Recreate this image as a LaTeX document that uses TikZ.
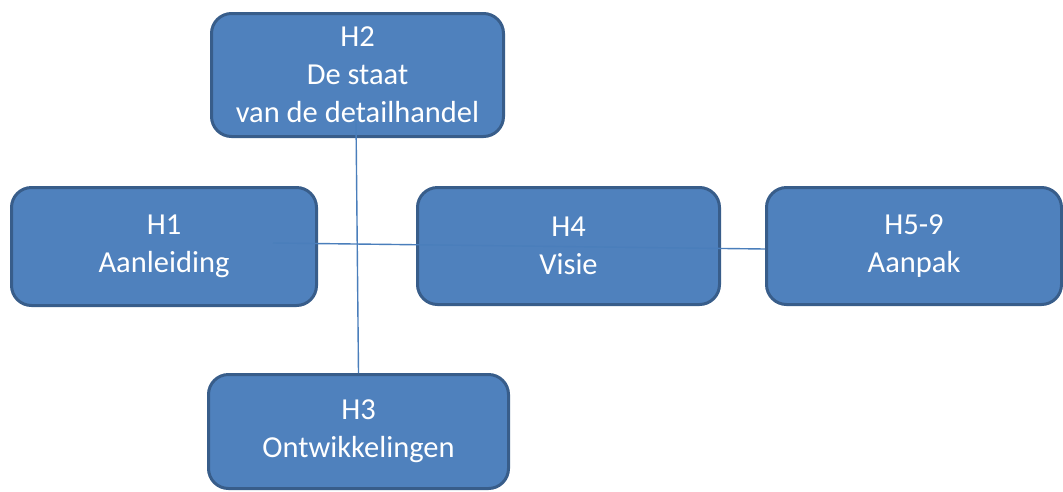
\documentclass[tikz,border=0pt]{standalone}
\usepackage{fontspec}
\setmainfont{Carlito}
\usepackage{tikz}
\usetikzlibrary{shapes}
\usetikzlibrary{calc}
\definecolor{boxfill}{HTML}{4F81BD}
\definecolor{boxline}{HTML}{385D8A}
\definecolor{linkline}{HTML}{4A7EBB}
\tikzstyle{chap}=[draw=boxline, fill=boxfill, line width=3pt, rounded corners=20pt, text=white, align=center, inner sep=0pt, font=\fontsize{30.5}{38}\selectfont]
\tikzstyle{link}=[draw=linkline, line width=1.4pt]

\begin{document}
\begin{tikzpicture}[x=1pt,y=-1pt]
\useasboundingbox (0,0) rectangle (1063,491);
\node[chap, minimum width=292pt, minimum height=123pt] (h2) at (357.5,75) {H2\\De staat\\van de detailhandel};
\node[chap, minimum width=305pt, minimum height=118pt] (h1) at (164,246.5) {H1\\Aanleiding};
\node[chap, minimum width=302pt, minimum height=117pt] (h4) at (568.5,246) {H4\\Visie};
\node[chap, minimum width=295pt, minimum height=117pt] (h5) at (914,246) {H5-9\\Aanpak};
\node[chap, minimum width=300pt, minimum height=114pt] (h3) at (358.5,431.5) {H3\\Ontwikkelingen};
\coordinate (a1) at (273,243);
\coordinate (a2) at (356,120);
\draw[link] (a1) -- ($(h5.west)+(0,3)$);
\draw[link] (a2) -- (h3.north);
\end{tikzpicture}
\end{document}
